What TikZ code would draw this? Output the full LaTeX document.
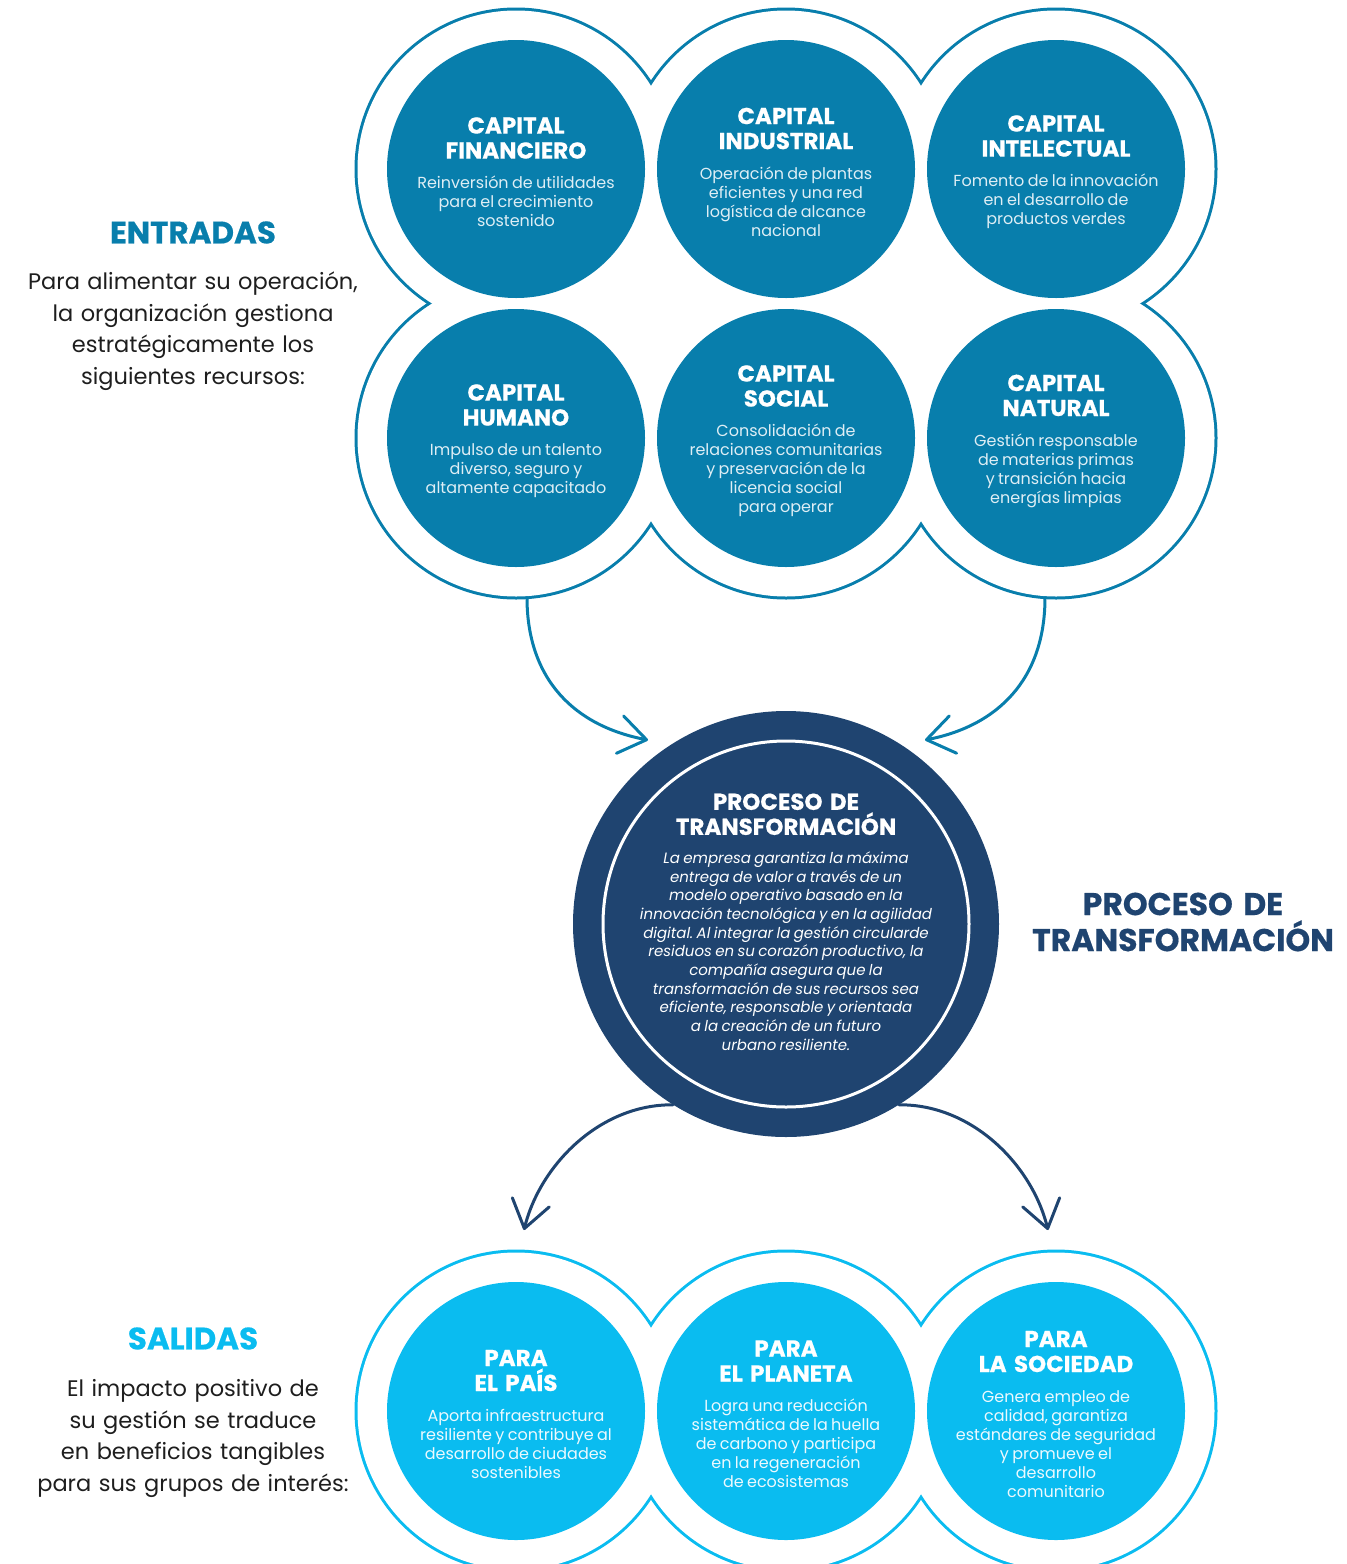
\documentclass[tikz,border=0pt]{standalone}
\usepackage{fontspec}
\setmainfont{Poppins}[BoldFeatures={FakeBold=0.5}]
\usetikzlibrary{arrows.meta}
\frenchspacing
\definecolor{cTeal}{RGB}{8,126,172}
\definecolor{cNavy}{RGB}{31,68,112}
\definecolor{cCyan}{RGB}{10,188,240}
\definecolor{bodyT}{RGB}{222,238,245}
\definecolor{bodyC}{RGB}{236,249,254}
\definecolor{ink}{RGB}{30,30,30}
\newcommand\ttlf{\fontsize{23}{25}\selectfont\bfseries}
\newcommand\bdyf{\fontsize{16}{19}\selectfont\mdseries\upshape}
\newcommand\itbf{\fontsize{15}{18.7}\selectfont\mdseries\itshape}
\newcommand\tsp{\hspace{0.32em}}
\tikzset{
  capc/.style={circle, inner sep=0pt, minimum size=258pt, fill=cTeal},
  salc/.style={circle, inner sep=0pt, minimum size=258pt, fill=cCyan},
  txt/.style={text width=300pt, align=center, inner sep=0pt, text=white},
  arrT/.style={draw=cTeal, line width=3pt, line cap=round, -{Straight Barb[length=27pt,width=38pt,round]}},
  arrN/.style={draw=cNavy, line width=3pt, line cap=round, -{Straight Barb[length=27pt,width=38pt,round]}},
}
\begin{document}
\begin{tikzpicture}[x=1pt,y=-1pt]
\useasboundingbox (0,0) rectangle (1347,1564);
\clip (0,0) rectangle (1347,1564);
% ---- top outline
\foreach \cx in {516,786,1056}{\foreach \cy in {169,438}{\fill[cTeal] (\cx,\cy) circle[radius=161.5pt];}}
\foreach \cx in {516,786,1056}{\foreach \cy in {169,438}{\fill[white] (\cx,\cy) circle[radius=158.5pt];}}
\fill[white] (516,169) rectangle (1056,438);
% ---- bottom outline
\foreach \cx in {516,786,1056}{\fill[cCyan] (\cx,1411) circle[radius=161.5pt];}
\foreach \cx in {516,786,1056}{\fill[white] (\cx,1411) circle[radius=158.5pt];}
% ---- capital circles
\node[capc] (cfin) at (516,169) {};
\node[capc] (cind) at (786,169) {};
\node[capc] (cint) at (1056,169) {};
\node[capc] (chum) at (516,438) {};
\node[capc] (csoc) at (786,438) {};
\node[capc] (cnat) at (1056,438) {};
% ---- output circles
\node[salc] (spais) at (516,1411) {};
\node[salc] (splan) at (786,1411) {};
\node[salc] (ssoc) at (1056,1411) {};
% ---- process circle
\node[circle, inner sep=0pt, minimum size=426pt, fill=cNavy] (proc) at (786,924) {};
\draw[white, line width=3pt] (proc.center) circle[radius=183pt];
% ---- arrows
\coordinate (tls) at (527,597.6);
\coordinate (tle) at (648,740);
\coordinate (trs) at (1045,597.6);
\coordinate (tre) at (925,740);
\coordinate (ble) at (524,1230);
\coordinate (bre) at (1048,1230);
\draw[arrT] (tls) .. controls (527,680) and (575,726) .. (tle);
\draw[arrT] (trs) .. controls (1045,680) and (997,726) .. (tre);
\draw[arrN] (proc.238) .. controls (600,1104) and (540,1165) .. (ble);
\draw[arrN] (proc.302) .. controls (972,1104) and (1032,1165) .. (bre);
% ---- circle texts
\node[txt] (tfin) at (516,172) {\ttlf CAPITAL\\FINANCIERO\par\vspace{11pt}\bdyf\color{bodyT}Reinversión de utilidades\\para el crecimiento\\sostenido\par};
\node[txt] (tind) at (786,172) {\ttlf CAPITAL\\INDUSTRIAL\par\vspace{11pt}\bdyf\color{bodyT}Operación de plantas\\eficientes y una red\\logística de alcance\\nacional\par};
\node[txt] (tint) at (1056,172) {\ttlf CAPITAL\\INTELECTUAL\par\vspace{11pt}\bdyf\color{bodyT}Fomento de la innovación\\en el desarrollo de\\productos verdes\par};
\node[txt] (thum) at (516,441) {\ttlf CAPITAL\\HUMANO\par\vspace{11pt}\bdyf\color{bodyT}Impulso de un talento\\diverso, seguro y\\altamente capacitado\par};
\node[txt] (tsoc) at (786,441) {\ttlf CAPITAL\\SOCIAL\par\vspace{11pt}\bdyf\color{bodyT}Consolidación de\\relaciones comunitarias\\y preservación de la\\licencia social\\para operar\par};
\node[txt] (tnat) at (1056,441) {\ttlf CAPITAL\\NATURAL\par\vspace{11pt}\bdyf\color{bodyT}Gestión responsable\\de materias primas\\y transición hacia\\energías limpias\par};
\node[txt] (tpais) at (516,1414) {\ttlf PARA\\EL\tsp PAÍS\par\vspace{11pt}\bdyf\color{bodyC}Aporta infraestructura\\resiliente y contribuye al\\desarrollo de ciudades\\sostenibles\par};
\node[txt] (tplan) at (786,1414) {\ttlf PARA\\EL\tsp PLANETA\par\vspace{11pt}\bdyf\color{bodyC}Logra una reducción\\sistemática de la huella\\de carbono y participa\\en la regeneración\\de ecosistemas\par};
\node[txt] (tsocd) at (1056,1414) {\ttlf PARA\\LA\tsp SOCIEDAD\par\vspace{11pt}\bdyf\color{bodyC}Genera empleo de\\calidad, garantiza\\estándares de seguridad\\y promueve el\\desarrollo\\comunitario\par};
\node[txt, text width=340pt] (tproc) at (786,922) {\ttlf PROCESO\tsp DE\\TRANSFORMACIÓN\par\vspace{9.8pt}\itbf La empresa garantiza la máxima\\entrega de valor a través de un\\modelo operativo basado en la\\innovación tecnológica y en la agilidad\\digital. Al integrar la gestión circularde\\residuos en su corazón productivo, la\\compañía asegura que la\\transformación de sus recursos sea\\eficiente, responsable y orientada\\a la creación de un futuro\\urbano resiliente.\par};
% ---- side texts
\node[txt, text=cTeal, font=\fontsize{31}{36}\selectfont\bfseries] (hent) at (193,232.5) {ENTRADAS};
\node[txt, text=ink, text width=360pt, font=\fontsize{22.5}{31.5}\selectfont] (bent) at (193,331) {Para alimentar su operación,\\la organización gestiona\\estratégicamente los\\siguientes recursos:};
\node[txt, text=cCyan, font=\fontsize{31}{36}\selectfont\bfseries] (hsal) at (193,1338.5) {SALIDAS};
\node[txt, text=ink, text width=360pt, font=\fontsize{22.5}{31.5}\selectfont] (bsal) at (193,1438.5) {El impacto positivo de\\su gestión se traduce\\en beneficios tangibles\\para sus grupos de interés:};
\node[txt, text=cNavy, text width=340pt, font=\fontsize{31.5}{36}\selectfont\bfseries] (hproc) at (1183,922) {PROCESO DE\\TRANSFORMACIÓN};
\end{tikzpicture}
\end{document}
